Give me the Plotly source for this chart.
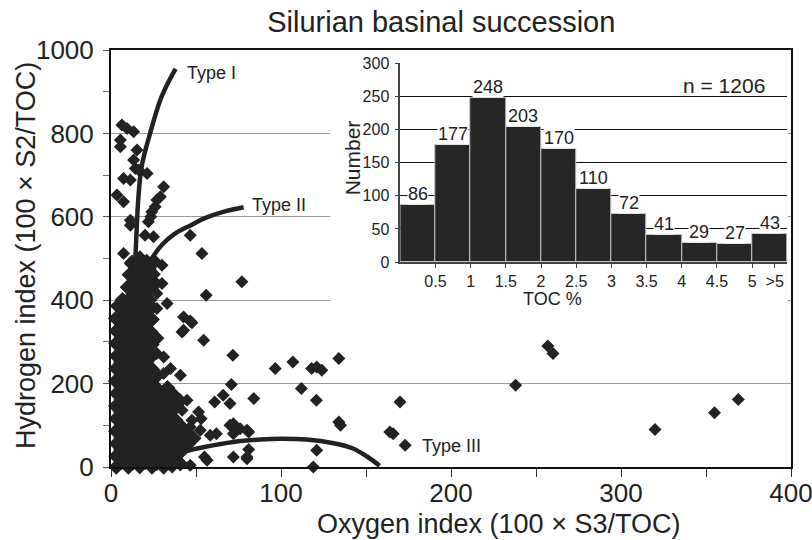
import plotly.graph_objects as go

FONT = "Liberation Sans, Arial, sans-serif"
NARROW = "Liberation Sans Narrow, Arial Narrow, Liberation Sans, sans-serif"
INK = "#222222"

# ---------------- main van Krevelen-type data (OI, HI) ----------------
# dense cluster near the origin
cluster_oi = [
    12.4, 19.1, 25.6,
    15.3, 22.2,
    10.8, 18.4, 24.7,
    14.2, 21.3,
    9.7, 17.2, 24.4,
    13.1, 20.4,
    6.8, 14.3, 21.1,
    3.9, 10.4, 17.2, 23.8,
    7.2, 13.8, 21.3,
    2.8, 10.1, 16.9, 24.2,
    6.3, 13.2, 20.1,
    3.1, 9.8, 17.3, 23.4,
    6.1, 12.7, 20.2, 26.8,
    2.9, 10.3, 16.8, 24.1,
    6.4, 13.3, 19.7,
    3.2, 9.9, 17.1, 23.6,
    5.8, 13.1, 20.3,
    3.0, 10.2, 16.7, 24.3,
    6.2, 12.8, 20.1, 27.2,
    2.7, 10.0, 17.4, 23.9,
    6.0, 13.4, 19.8, 27.1, 33.2,
    3.3, 9.7, 17.0, 24.2, 30.4, 36.8,
    6.1, 13.0, 20.2, 26.9, 34.1, 40.7,
    2.8, 10.2, 16.8, 24.3, 30.9, 38.2,
    5.9, 12.9, 20.3, 27.2, 34.0,
    3.1, 10.1, 17.2, 23.8, 31.1, 37.9,
    6.2, 13.2, 19.9, 27.0, 33.8, 41.2,
    2.9, 9.8, 17.1, 24.1, 30.8, 38.1, 44.9,
    6.0, 13.1, 20.2, 26.8, 34.2, 40.9, 48.7,
    3.2, 10.0, 16.9, 24.2, 31.0, 38.3, 45.1,
    5.9, 13.3, 20.0, 27.1, 33.9, 41.0,
    3.0, 10.1, 17.3, 23.9, 31.2, 37.8,
    6.1, 12.8, 20.1, 27.0, 34.1, 40.8,
    3.1, 10.2, 16.9, 24.1, 31.0,
]
cluster_hi = [
    491, 490, 492,
    476, 475,
    461, 460, 462,
    446, 445,
    431, 430, 432,
    416, 415,
    401, 400, 401,
    386, 385, 386, 384,
    371, 370, 371,
    356, 355, 356, 354,
    341, 340, 341,
    326, 325, 326, 324,
    311, 310, 311, 309,
    296, 295, 296, 294,
    281, 280, 281,
    266, 265, 266, 264,
    251, 250, 251,
    236, 235, 236, 234,
    221, 220, 221, 219,
    206, 205, 206, 204,
    191, 190, 191, 189, 190,
    176, 175, 176, 174, 175, 173,
    161, 160, 161, 159, 160, 158,
    146, 145, 146, 144, 145, 143,
    131, 130, 131, 129, 130,
    116, 115, 116, 114, 115, 113,
    101, 100, 101, 99, 100, 98,
    86, 85, 86, 84, 85, 83, 84,
    71, 70, 71, 69, 70, 68, 69,
    56, 55, 56, 54, 55, 53, 54,
    41, 40, 41, 39, 40, 38,
    26, 25, 26, 24, 25, 23,
    11, 10, 11, 9, 10, 8,
    0, 0, 1, 0, 0,
]

# high-HI samples
upper_oi = [6.4, 13.3, 5.5, 5.5, 15.3, 13.3, 14.3, 16.3, 21.2, 7.4, 11.4, 31, 29, 27,
            3.5, 7.4, 26, 24, 23.4, 11.4, 11.4, 22, 46.6, 20, 25, 53.5, 7.4, 11.4, 17,
            21, 30, 25, 30, 13.3, 33, 27, 23.4, 42.7, 46.6, 42.7, 54.5, 27, 17, 9, 77,
            56, 71.7, 47.6, 41.8, 9.4]
upper_hi = [820, 804, 784, 768, 760, 736, 716, 712, 704, 692, 688, 672, 648, 640,
            652, 636, 624, 612, 600, 592, 580, 588, 556, 556, 552, 512, 512, 488, 504,
            496, 484, 448, 440, 432, 392, 416, 400, 360, 350, 328, 304, 380, 384, 400, 444,
            412, 268, 346, 324, 812]

# moderate OI spread
spread_oi = [35, 31, 40.8, 31, 27, 96.6, 107, 118, 124, 121, 134, 112, 120.8, 70.8, 84,
             61, 66, 70, 134, 135, 121, 119, 72, 80, 81, 56.5, 55, 46.6, 70, 76, 81, 72,
             58.4, 62, 51.5, 53, 44.7, 41.8, 46.6, 52.5, 33, 36, 47.6, 72, 80, 80, 41.8]
spread_hi = [236, 224, 220, 264, 272, 236, 252, 236, 232, 240, 260, 188, 160, 198, 164,
             156, 172, 152, 108, 100, 40, 0, 24, 24, 42, 16, 24, 4, 100, 92, 84, 80,
             76, 80, 132, 116, 160, 136, 96, 88, 16, 0, 112, 104, 88, 20, 36]

# high-OI outliers
far_oi = [257, 260, 238, 320, 355, 369, 170, 173, 166, 164]
far_hi = [290, 272, 196, 90, 130, 162, 156, 52, 80, 84]

# kerogen type evolution curves
type1_oi = [11, 12, 13, 14, 15, 16, 18, 23, 29, 34, 38]
type1_hi = [50, 200, 350, 470, 560, 640, 720, 800, 880, 925, 955]
type2_oi = [14, 16, 19, 24, 30, 37, 47, 56, 67, 78]
type2_hi = [330, 400, 460, 500, 533, 558, 580, 598, 613, 623]
type3_oi = [15, 25, 34, 43, 55, 72, 88, 100, 115, 131, 142, 151, 158]
type3_hi = [8, 18, 28, 37, 48, 60, 66, 68, 66, 57, 45, 24, 3]

type_labels = ["Type I", "Type II", "Type III"]
type_label_oi = [43.5, 82, 182]
type_label_hi = [945, 628, 50]

x_tick_vals = [0, 100, 200, 300, 400]
y_tick_vals = [0, 200, 400, 600, 800, 1000]

# ---------------- inset histogram (TOC %) ----------------
toc_counts = [86, 177, 248, 203, 170, 110, 72, 41, 29, 27, 43]
toc_tick_labels = ["0.5", "1", "1.5", "2", "2.5", "3", "3.5", "4", "4.5", "5", ">5"]
toc_tick_pos = [0.5, 1, 1.5, 2, 2.5, 3, 3.5, 4, 4.5, 5, 5.32]
toc_bin_centers = [0.25 + 0.5 * i for i in range(len(toc_counts))]
n_total = 1206

other_oi = upper_oi + spread_oi + far_oi
other_hi = upper_hi + spread_hi + far_hi

fig = go.Figure()

# empty subplot acting as a white backdrop behind the inset
fig.add_trace(go.Scatter(x=[], y=[], xaxis="x2", yaxis="y2", showlegend=False, hoverinfo="skip"))

fig.add_trace(go.Scatter(
    x=cluster_oi, y=cluster_hi, mode="markers", cliponaxis=False, showlegend=False,
    marker=dict(symbol="diamond", size=12, color=INK, line=dict(width=0)),
))
fig.add_trace(go.Scatter(
    x=other_oi, y=other_hi, mode="markers", cliponaxis=False, showlegend=False,
    marker=dict(symbol="diamond", size=10, color=INK, line=dict(width=0)),
))
for xs, ys in [(type1_oi, type1_hi), (type2_oi, type2_hi), (type3_oi, type3_hi)]:
    fig.add_trace(go.Scatter(
        x=xs, y=ys, mode="lines", cliponaxis=False, showlegend=False,
        line=dict(color=INK, width=4.5, shape="spline"),
    ))

fig.add_trace(go.Bar(
    x=toc_bin_centers, y=toc_counts, width=0.5, xaxis="x3", yaxis="y3", showlegend=False,
    marker=dict(color="#262626", line=dict(color="#c8c8c8", width=1)),
))

annotations = []
for t, ox, hy in zip(type_labels, type_label_oi, type_label_hi):
    annotations.append(dict(x=ox, y=hy, xref="x", yref="y", text=t, showarrow=False,
                            xanchor="left", yanchor="middle",
                            font=dict(family=NARROW, size=18, color=INK)))
for cx, c in zip(toc_bin_centers, toc_counts):
    annotations.append(dict(x=cx, y=c, xref="x3", yref="y3", text=str(c), showarrow=False,
                            xanchor="center", yanchor="bottom", bgcolor="white", borderpad=0,
                            font=dict(family=FONT, size=18, color=INK)))
annotations += [
    dict(x=0.9651, y=0.916, xref="paper", yref="paper", text=f"n = {n_total}", showarrow=False,
         xanchor="right", yanchor="middle", font=dict(family=FONT, size=21, color=INK)),
    dict(x=0.649, y=0.402, xref="paper", yref="paper", text="TOC %", showarrow=False,
         xanchor="center", yanchor="middle", font=dict(family=FONT, size=18, color=INK)),
    dict(x=0.3549, y=0.741, xref="paper", yref="paper", text="Number", showarrow=False,
         textangle=-90, xanchor="center", yanchor="middle",
         font=dict(family=FONT, size=21, color=INK)),
    dict(x=0.5696, y=-0.137, xref="paper", yref="paper", text="Oxygen index (100 × S3/TOC)",
         showarrow=False, xanchor="center", yanchor="middle",
         font=dict(family=FONT, size=27, color=INK)),
    dict(x=-0.125, y=0.5057, xref="paper", yref="paper", text="Hydrogen index (100 × S2/TOC)",
         showarrow=False, textangle=-90, xanchor="center", yanchor="middle",
         font=dict(family=FONT, size=27, color=INK)),
]

fig.update_layout(
    width=812, height=540, autosize=False,
    margin=dict(l=111, r=21, t=50, b=73, autoexpand=False),
    paper_bgcolor="white", plot_bgcolor="white",
    showlegend=False,
    font=dict(family=FONT, color=INK),
    title=dict(text="Silurian basinal succession", x=0.4857, xref="paper", xanchor="center",
               y=1 - 22 / 540, yref="container", yanchor="middle",
               font=dict(family=FONT, size=29, color=INK)),
    bargap=0,
    xaxis=dict(
        domain=[0, 1], range=[0, 400], tickvals=x_tick_vals, ticks="outside", ticklen=8,
        tickcolor="#333", tickwidth=1, showline=True, linecolor="#111", linewidth=2,
        mirror=True, showgrid=False, zeroline=False, tickfont=dict(size=26),
        ticklabelstandoff=-6, ticklabeloverflow="allow", automargin=False,
        minor=dict(dtick=50, tick0=0, ticks="outside", ticklen=8, tickcolor="#333", showgrid=False),
        anchor="y",
    ),
    yaxis=dict(
        domain=[0, 1], range=[0, 1000], tickvals=y_tick_vals, ticks="outside", ticklen=6,
        tickcolor="#555", tickwidth=1, showline=True, linecolor="#111", linewidth=2,
        mirror=True, showgrid=True, gridcolor="#9a9a9a", gridwidth=1, zeroline=False,
        tickfont=dict(size=26), ticklabelstandoff=4, ticklabeloverflow="allow", automargin=False,
        minor=dict(dtick=100, tick0=0, ticks="outside", ticklen=6, tickcolor="#777", showgrid=False),
        anchor="x",
    ),
    xaxis2=dict(domain=[0.3225, 0.995], range=[0, 1], anchor="y2", showline=False,
                showgrid=False, zeroline=False, showticklabels=False, ticks=""),
    yaxis2=dict(domain=[0.3713, 0.995], range=[0, 1], anchor="x2", showline=False,
                showgrid=False, zeroline=False, showticklabels=False, ticks=""),
    xaxis3=dict(
        domain=[0.4254, 0.9946], range=[0, 5.5], anchor="y3",
        tickvals=toc_tick_pos, ticktext=toc_tick_labels, ticks="outside", ticklen=4,
        tickcolor="#444", showline=True, linecolor="#444", linewidth=1.5,
        showgrid=False, zeroline=False, tickfont=dict(size=16), automargin=False,
    ),
    yaxis3=dict(
        domain=[0.4913, 0.9688], range=[0, 300], anchor="x3", dtick=50,
        ticks="outside", ticklen=4, tickcolor="#444", showline=True, linecolor="#444",
        linewidth=1.5, showgrid=True, gridcolor="#111", gridwidth=1, zeroline=False,
        tickfont=dict(size=16), ticklabelstandoff=2, automargin=False,
    ),
    annotations=annotations,
)

fig.write_html(
    "out.html",
    config={"displayModeBar": False},
    post_script=(
        "document.documentElement.style.overflow='hidden';"
        "document.body.style.overflow='hidden';"
        "document.body.style.margin='0';document.body.style.padding='0';"
    ),
)
